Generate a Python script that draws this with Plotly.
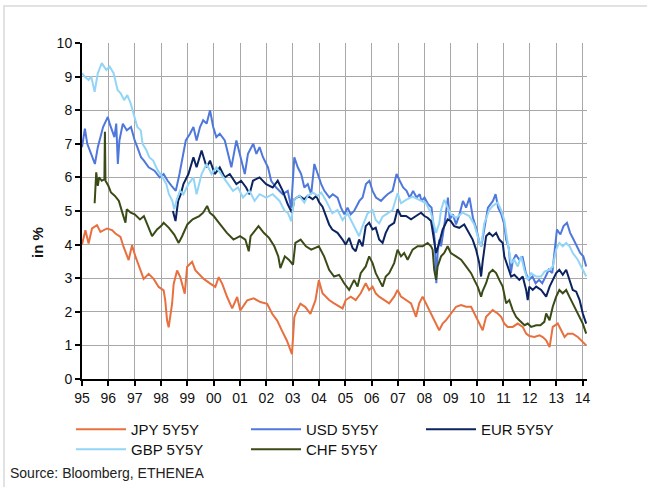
import plotly.graph_objects as go

# ---------------- data (decimal year, value in %) ----------------
jpy_t = [1995.00, 1995.13, 1995.25, 1995.38, 1995.57, 1995.70, 1995.95, 1996.14, 1996.27, 1996.46,
         1996.58, 1996.77, 1996.90, 1997.03, 1997.22, 1997.34, 1997.53, 1997.72, 1997.91, 1998.10,
         1998.16, 1998.23, 1998.29, 1998.42, 1998.48, 1998.61, 1998.73, 1998.84, 1998.90, 1998.99,
         1999.18, 1999.30, 1999.43, 1999.62, 1999.87, 2000.06, 2000.19, 2000.32, 2000.51, 2000.70,
         2000.89, 2001.01, 2001.27, 2001.52, 2001.77, 2002.03, 2002.22, 2002.41, 2002.59, 2002.78,
         2002.97, 2003.06, 2003.16, 2003.29, 2003.48, 2003.67, 2003.86, 2003.99, 2004.13, 2004.25,
         2004.38, 2004.57, 2004.76, 2004.89, 2005.01, 2005.20, 2005.39, 2005.58, 2005.77, 2005.90,
         2006.03, 2006.15, 2006.28, 2006.47, 2006.66, 2006.85, 2006.98, 2007.11, 2007.30, 2007.49,
         2007.68, 2007.80, 2007.93, 2008.06, 2008.25, 2008.44, 2008.56, 2008.69, 2008.82, 2009.01,
         2009.20, 2009.39, 2009.58, 2009.77, 2009.89, 2010.02, 2010.15, 2010.21, 2010.34, 2010.46,
         2010.59, 2010.78, 2010.91, 2011.03, 2011.16, 2011.35, 2011.54, 2011.73, 2011.86, 2011.98,
         2012.17, 2012.37, 2012.49, 2012.62, 2012.75, 2012.87, 2013.06, 2013.19, 2013.32, 2013.44,
         2013.63, 2013.82, 2014.01, 2014.14]
jpy_v = [4.00, 4.43, 4.03, 4.48, 4.58, 4.38, 4.48, 4.43, 4.33, 4.23,
         3.93, 3.54, 3.98, 3.64, 3.24, 2.98, 3.13, 2.98, 2.74, 2.64,
         2.34, 1.74, 1.54, 2.24, 2.83, 3.23, 3.03, 2.74, 2.54, 3.34,
         3.49, 3.24, 3.13, 2.98, 2.84, 2.74, 3.03, 2.84, 2.44, 2.10,
         2.44, 2.04, 2.34, 2.40, 2.29, 2.24, 1.94, 1.74, 1.44, 1.14,
         0.74, 1.84, 2.04, 2.24, 2.14, 1.94, 2.34, 2.94, 2.55, 2.45,
         2.35, 2.25, 2.15, 2.10, 2.35, 2.45, 2.35, 2.55, 2.85, 2.65,
         2.75, 2.55, 2.45, 2.35, 2.25, 2.45, 2.65, 2.45, 2.35, 2.25,
         1.85, 2.25, 2.45, 2.25, 1.95, 1.65, 1.45, 1.65, 1.75, 1.95,
         2.15, 2.20, 2.15, 2.15, 1.95, 1.75, 1.55, 1.45, 1.85, 1.95,
         2.05, 1.95, 1.85, 1.65, 1.55, 1.55, 1.65, 1.55, 1.35, 1.28,
         1.25, 1.30, 1.25, 1.15, 0.95, 1.55, 1.65, 1.45, 1.25, 1.35,
         1.35, 1.25, 1.10, 1.00]

usd_t = [1995.00, 1995.11, 1995.20, 1995.30, 1995.40, 1995.49, 1995.60, 1995.70, 1995.80, 1995.98,
         1996.05, 1996.23, 1996.30, 1996.36, 1996.42, 1996.55, 1996.70, 1996.86, 1997.00, 1997.10,
         1997.24, 1997.35, 1997.53, 1997.75, 1997.95, 1998.10, 1998.25, 1998.40, 1998.56, 1998.70,
         1998.82, 1998.94, 1999.10, 1999.23, 1999.35, 1999.48, 1999.60, 1999.73, 1999.86, 1999.98,
         2000.10, 2000.23, 2000.42, 2000.55, 2000.67, 2000.86, 2000.98, 2001.18, 2001.30, 2001.50,
         2001.62, 2001.74, 2001.87, 2002.06, 2002.18, 2002.37, 2002.62, 2002.81, 2002.94, 2003.06,
         2003.19, 2003.32, 2003.44, 2003.57, 2003.70, 2003.82, 2003.95, 2004.08, 2004.20, 2004.39,
         2004.52, 2004.70, 2004.83, 2004.96, 2005.08, 2005.20, 2005.33, 2005.53, 2005.65, 2005.78,
         2005.91, 2006.03, 2006.16, 2006.35, 2006.47, 2006.60, 2006.79, 2006.94, 2007.06, 2007.19,
         2007.32, 2007.44, 2007.57, 2007.70, 2007.82, 2007.89, 2008.00, 2008.14, 2008.27, 2008.33,
         2008.39, 2008.45, 2008.50, 2008.56, 2008.63, 2008.75, 2008.89, 2008.96, 2009.08, 2009.20,
         2009.33, 2009.46, 2009.58, 2009.71, 2009.84, 2009.96, 2010.09, 2010.16, 2010.28, 2010.41,
         2010.60, 2010.70, 2010.80, 2010.92, 2011.03, 2011.10, 2011.20, 2011.28, 2011.35, 2011.47,
         2011.60, 2011.72, 2011.85, 2011.97, 2012.10, 2012.22, 2012.35, 2012.47, 2012.60, 2012.72,
         2012.85, 2012.97, 2013.03, 2013.16, 2013.28, 2013.41, 2013.53, 2013.66, 2013.78, 2013.91,
         2014.03, 2014.14]
usd_v = [6.90, 7.45, 7.00, 6.80, 6.60, 6.40, 6.90, 7.20, 7.50, 7.80,
         7.60, 7.20, 7.60, 6.40, 7.10, 7.60, 7.40, 7.50, 7.10, 6.90,
         6.60, 6.50, 6.30, 6.20, 6.00, 6.10, 5.90, 5.75, 5.60, 6.10,
         6.60, 7.10, 7.30, 7.50, 7.10, 7.50, 7.70, 7.60, 8.00, 7.50,
         7.20, 7.30, 7.10, 6.70, 6.30, 7.10, 6.70, 6.10, 6.70, 7.00,
         6.70, 6.90, 6.60, 6.30, 5.90, 5.70, 5.50, 5.60, 5.10, 6.60,
         6.30, 6.10, 5.70, 5.80, 5.50, 6.40, 6.10, 5.80, 5.60, 5.40,
         5.50, 5.40, 5.10, 4.90, 5.10, 4.90, 5.00, 5.30, 5.40, 5.80,
         5.90, 5.60, 5.40, 5.30, 5.40, 5.50, 5.60, 6.10, 5.90, 5.70,
         5.60, 5.40, 5.60, 5.40, 5.50, 5.30, 5.40, 5.20, 5.10, 4.50,
         4.10, 2.85, 3.75, 4.15, 3.95, 4.55, 5.40, 4.75, 4.90, 4.60,
         4.90, 5.30, 5.10, 5.40, 4.80, 4.50, 4.05, 3.95, 4.55, 5.10,
         5.30, 5.50, 5.10, 4.90, 4.60, 4.15, 3.90, 3.15, 3.50, 3.70,
         3.55, 3.65, 3.15, 2.95, 3.05, 2.85, 2.95, 2.85, 3.05, 3.25,
         3.15, 4.15, 4.45, 4.30, 4.55, 4.65, 4.35, 4.15, 3.95, 3.75,
         3.65, 3.35]

eur_t = [1998.45, 1998.55, 1998.65, 1998.75, 1998.85, 1999.04, 1999.23, 1999.35, 1999.54, 1999.73,
         1999.86, 2000.04, 2000.23, 2000.42, 2000.61, 2000.86, 2001.04, 2001.23, 2001.36, 2001.49,
         2001.74, 2001.99, 2002.24, 2002.43, 2002.62, 2002.81, 2002.97, 2003.06, 2003.25, 2003.44,
         2003.57, 2003.76, 2003.89, 2004.01, 2004.13, 2004.25, 2004.38, 2004.50, 2004.70, 2004.89,
         2005.01, 2005.14, 2005.27, 2005.39, 2005.52, 2005.65, 2005.77, 2005.90, 2006.03, 2006.15,
         2006.28, 2006.41, 2006.53, 2006.66, 2006.85, 2006.98, 2007.11, 2007.30, 2007.49, 2007.68,
         2007.87, 2008.00, 2008.12, 2008.25, 2008.37, 2008.44, 2008.56, 2008.69, 2008.88, 2009.00,
         2009.13, 2009.32, 2009.51, 2009.70, 2009.83, 2009.96, 2010.08, 2010.15, 2010.21, 2010.34,
         2010.46, 2010.59, 2010.72, 2010.84, 2010.97, 2011.03, 2011.16, 2011.29, 2011.41, 2011.60,
         2011.73, 2011.86, 2011.92, 2011.98, 2012.11, 2012.24, 2012.43, 2012.62, 2012.75, 2012.87,
         2013.00, 2013.12, 2013.25, 2013.38, 2013.51, 2013.63, 2013.76, 2013.89, 2014.01, 2014.14]
eur_v = [5.00, 4.70, 5.30, 5.50, 5.80, 6.10, 6.60, 6.30, 6.80, 6.30,
         6.50, 6.10, 6.30, 6.00, 6.10, 5.80, 5.90, 5.70, 5.50, 5.90,
         6.00, 5.80, 5.70, 5.90, 5.60, 5.20, 4.95, 5.35, 5.45, 5.35,
         5.45, 5.35, 5.45, 5.25, 5.13, 4.90, 4.60, 4.45, 4.35, 4.15,
         4.00, 4.20, 3.90, 3.80, 4.15, 3.95, 4.55, 4.65, 4.45, 4.50,
         4.15, 4.05, 4.35, 4.55, 4.65, 5.05, 4.85, 4.85, 4.75, 4.85,
         4.95, 4.85, 4.80, 4.70, 4.05, 3.75, 4.05, 4.45, 4.75, 4.70,
         4.55, 4.50, 4.60, 4.35, 4.15, 3.85, 3.45, 3.05, 3.50, 4.25,
         4.35, 4.25, 4.35, 4.15, 4.05, 3.65, 3.35, 3.05, 3.10, 2.95,
         3.05, 2.65, 2.35, 2.75, 2.65, 2.75, 2.65, 2.45, 2.75, 2.95,
         3.15, 3.25, 3.10, 3.25, 2.95, 2.65, 2.60, 2.35, 1.95, 1.65]

gbp_t = [1995.00, 1995.10, 1995.25, 1995.35, 1995.48, 1995.60, 1995.75, 1995.92, 1996.05, 1996.20,
         1996.35, 1996.47, 1996.60, 1996.72, 1996.85, 1996.98, 1997.10, 1997.23, 1997.30, 1997.45,
         1997.55, 1997.70, 1997.88, 1998.06, 1998.20, 1998.30, 1998.43, 1998.50, 1998.60, 1998.72,
         1998.85, 1999.04, 1999.23, 1999.35, 1999.54, 1999.73, 1999.92, 2000.10, 2000.29, 2000.48,
         2000.73, 2000.92, 2001.11, 2001.36, 2001.55, 2001.74, 2001.99, 2002.24, 2002.50, 2002.69,
         2002.81, 2002.94, 2003.06, 2003.25, 2003.44, 2003.57, 2003.76, 2003.95, 2004.08, 2004.25,
         2004.50, 2004.70, 2004.89, 2005.08, 2005.27, 2005.52, 2005.65, 2005.84, 2006.03, 2006.15,
         2006.28, 2006.41, 2006.60, 2006.79, 2006.98, 2007.11, 2007.30, 2007.55, 2007.80, 2008.06,
         2008.25, 2008.37, 2008.44, 2008.56, 2008.63, 2008.75, 2008.88, 2009.00, 2009.20, 2009.45,
         2009.70, 2009.89, 2010.06, 2010.15, 2010.27, 2010.46, 2010.59, 2010.78, 2010.91, 2011.03,
         2011.16, 2011.29, 2011.41, 2011.54, 2011.67, 2011.79, 2011.92, 2012.05, 2012.24, 2012.43,
         2012.56, 2012.75, 2012.87, 2013.00, 2013.12, 2013.25, 2013.38, 2013.51, 2013.63, 2013.82,
         2014.01, 2014.14]
gbp_v = [9.10, 9.00, 8.90, 9.00, 8.55, 9.10, 9.40, 9.20, 9.30, 9.10,
         8.60, 8.50, 8.30, 8.45, 8.20, 7.80, 7.50, 7.40, 7.00, 6.80,
         6.60, 6.50, 6.20, 6.00, 5.80, 5.50, 5.30, 5.05, 5.35, 5.60,
         5.50, 5.80, 6.00, 5.50, 6.10, 6.40, 6.10, 6.30, 6.10, 5.90,
         5.60, 5.70, 5.40, 5.60, 5.30, 5.50, 5.40, 5.50, 5.30, 5.00,
         4.95, 4.70, 5.35, 5.45, 5.25, 5.45, 5.55, 5.45, 5.55, 5.33,
         4.93, 5.03, 4.73, 4.93, 4.63, 4.25, 4.55, 4.93, 5.03, 4.73,
         4.63, 4.83, 4.93, 5.03, 5.53, 5.23, 5.33, 5.43, 5.33, 5.23,
         4.93, 4.53, 4.35, 4.63, 5.03, 5.33, 5.10, 4.90, 4.80, 4.95,
         4.85, 4.60, 4.14, 3.95, 4.63, 5.03, 5.15, 5.25, 5.03, 4.73,
         4.05, 3.45, 3.55, 3.35, 3.65, 3.25, 2.95, 3.15, 3.05, 3.05,
         3.20, 3.25, 3.35, 3.85, 4.05, 3.95, 4.05, 3.95, 3.75, 3.55,
         3.25, 3.05]

chf_t = [1995.48, 1995.54, 1995.60, 1995.65, 1995.75, 1995.85, 1995.87, 1995.89, 1996.00, 1996.10,
         1996.25, 1996.40, 1996.55, 1996.65, 1996.70, 1996.85, 1997.00, 1997.20, 1997.35, 1997.50,
         1997.66, 1997.85, 1998.00, 1998.10, 1998.30, 1998.50, 1998.67, 1998.80, 1999.00, 1999.20,
         1999.45, 1999.60, 1999.75, 1999.85, 2000.00, 2000.20, 2000.50, 2000.75, 2001.00, 2001.20,
         2001.33, 2001.40, 2001.70, 2001.90, 2002.10, 2002.30, 2002.45, 2002.53, 2002.70, 2002.85,
         2003.01, 2003.10, 2003.30, 2003.50, 2003.70, 2003.99, 2004.19, 2004.38, 2004.57, 2004.76,
         2004.95, 2005.14, 2005.33, 2005.46, 2005.58, 2005.77, 2005.90, 2006.03, 2006.15, 2006.28,
         2006.41, 2006.53, 2006.66, 2006.85, 2006.98, 2007.11, 2007.23, 2007.36, 2007.55, 2007.74,
         2007.93, 2008.12, 2008.25, 2008.31, 2008.37, 2008.44, 2008.50, 2008.63, 2008.75, 2008.88,
         2009.00, 2009.20, 2009.39, 2009.58, 2009.77, 2009.89, 2010.02, 2010.15, 2010.20, 2010.34,
         2010.46, 2010.59, 2010.72, 2010.84, 2010.97, 2011.10, 2011.22, 2011.35, 2011.48, 2011.60,
         2011.80, 2011.92, 2012.05, 2012.24, 2012.40, 2012.55, 2012.62, 2012.75, 2012.87, 2013.00,
         2013.12, 2013.25, 2013.38, 2013.50, 2013.63, 2013.82, 2014.01, 2014.14]
chf_v = [5.23, 6.15, 5.75, 6.00, 5.90, 5.95, 7.36, 5.90, 5.75, 5.55,
         5.45, 5.30, 4.90, 4.65, 5.05, 4.95, 4.90, 4.75, 4.85, 4.55,
         4.25, 4.45, 4.55, 4.65, 4.50, 4.30, 4.05, 4.25, 4.60, 4.75,
         4.85, 4.95, 5.15, 4.95, 4.85, 4.65, 4.35, 4.15, 4.25, 4.15,
         3.80, 4.25, 4.55, 4.35, 4.20, 3.95, 3.65, 3.30, 3.65, 3.55,
         3.40, 4.05, 4.15, 3.95, 3.85, 3.95, 3.65, 3.25, 3.05, 3.10,
         2.85, 2.65, 2.95, 2.75, 3.15, 3.35, 3.65, 3.45, 3.15, 2.95,
         2.75, 3.05, 3.15, 3.45, 3.85, 3.65, 3.75, 3.55, 3.85, 3.95,
         3.95, 4.05, 3.95, 3.85, 3.25, 2.95, 3.35, 3.65, 3.75, 3.95,
         3.75, 3.65, 3.55, 3.35, 3.15, 2.95, 2.75, 2.45, 2.60, 2.85,
         3.15, 3.25, 3.15, 2.95, 2.75, 2.25, 2.35, 2.05, 1.85, 1.75,
         1.60, 1.65, 1.55, 1.60, 1.60, 1.70, 1.95, 1.75, 2.15, 2.45,
         2.65, 2.55, 2.65, 2.45, 2.25, 1.95, 1.65, 1.35]

series_names = ["JPY 5Y5Y", "USD 5Y5Y", "EUR 5Y5Y", "GBP 5Y5Y", "CHF 5Y5Y"]
tick_years = list(range(1995, 2015))
tick_labels = ["95", "96", "97", "98", "99", "00", "01", "02", "03", "04",
               "05", "06", "07", "08", "09", "10", "11", "12", "13", "14"]

# ---------------- styling ----------------
colors = ["#E8703F", "#4F78DC", "#0B2460", "#93D5F7", "#3A4B17"]
legend_rows = ["legend", "legend", "legend", "legend2", "legend2"]
FONT = "Liberation Sans, Arial, sans-serif"

W, H = 647, 487
L, R, T, B = 82, 60, 43, 108
PW, PH = W - L - R, H - T - B


def px(x):
    return (x - L) / PW


def py(y):
    return (H - B - y) / PH


fig = go.Figure()
for name, t, v, c, lg in zip(series_names,
                             [jpy_t, usd_t, eur_t, gbp_t, chf_t],
                             [jpy_v, usd_v, eur_v, gbp_v, chf_v],
                             colors, legend_rows):
    fig.add_trace(go.Scatter(x=t, y=v, mode="lines", name=name, legend=lg,
                             line=dict(color=c, width=2)))

axis_common = dict(showgrid=True, gridcolor="#A8A8A8", gridwidth=1.3,
                   showline=True, linecolor="black", linewidth=2,
                   ticks="outside", ticklen=5, tickwidth=1.5, tickcolor="black",
                   zeroline=False, tickfont=dict(family=FONT, size=14, color="#111"))

legend_common = dict(orientation="h", xanchor="left", yanchor="top",
                     entrywidth=110, entrywidthmode="pixels", itemwidth=50,
                     font=dict(family=FONT, size=15, color="#111"),
                     bgcolor="rgba(0,0,0,0)", tracegroupgap=0)

fig.update_layout(
    width=W, height=H,
    margin=dict(l=L, r=R, t=T, b=B, autoexpand=False),
    paper_bgcolor="white", plot_bgcolor="white",
    font=dict(family=FONT, size=14, color="#111"),
    xaxis=dict(range=[1995, 2014.17], tickmode="array", tickvals=tick_years,
               ticktext=tick_labels, **axis_common),
    yaxis=dict(range=[0, 10], tickmode="linear", tick0=0, dtick=1, **axis_common),
    showlegend=True,
    legend=dict(x=px(71), y=py(413), **legend_common),
    legend2=dict(x=px(71), y=py(433), **legend_common),
    annotations=[
        dict(text="<b>in %</b>", x=px(37), y=py(243), xref="paper", yref="paper",
             textangle=-90, showarrow=False, font=dict(family=FONT, size=15, color="#111"),
             xanchor="center", yanchor="middle"),
        dict(text="Source: Bloomberg, ETHENEA", x=px(8), y=py(473), xref="paper", yref="paper",
             showarrow=False, font=dict(family=FONT, size=14, color="#222"),
             xanchor="left", yanchor="middle"),
    ],
    shapes=[dict(type="rect", xref="paper", yref="paper",
                 x0=px(4), y0=py(6), x1=px(652), y1=py(492),
                 line=dict(color="#D9D9D9", width=1.5), fillcolor="rgba(0,0,0,0)", layer="below")],
)

fig.write_html("out.html", config={"displayModeBar": False},
               post_script="document.body.style.margin='0';document.body.style.overflow='hidden';")
